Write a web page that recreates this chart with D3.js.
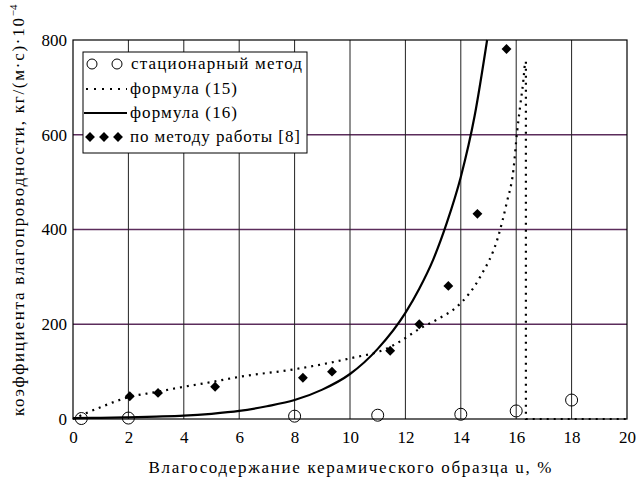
<!DOCTYPE html>
<html>
<head>
<meta charset="utf-8">
<script src="https://cdn.jsdelivr.net/npm/d3@7"></script>
</head>
<body style="margin:0">
<div id="chart"></div>
<script>
// стационарный метод (open circles)
const stationaryU = [0.3, 2, 8, 11, 14, 16, 18];
const stationaryK = [1, 2, 6, 8, 10, 17, 40];

// по методу работы [8] (diamonds)
const methodU = [2.05, 3.07, 5.13, 8.3, 9.35, 11.45, 12.5, 13.55, 14.6, 15.65];
const methodK = [48, 55, 68, 87, 100, 144, 200, 281, 433, 781];

// формула (15), dotted
const f15U = [0, 1, 2, 3, 4, 5, 6, 8, 10, 11.3, 11.7, 12.5, 13.2, 13.86, 14.7, 15.35, 15.66, 15.9, 16.03, 16.14, 16.26, 16.32];
const f15K = [0, 25, 46, 57, 68, 78, 89, 105, 128, 148, 160, 190, 212, 237, 300, 385, 457, 526, 605, 659, 716, 754];
// drop of formula (15) at the pole
const f15TailU = [16.35, 16.35, 20];
const f15TailK = [754, 0, 0];

// формула (16), solid (leaves the plot at the top)
const f16U = [0, 1, 2, 3, 4, 5, 6, 7, 8, 9, 10, 11, 12, 12.5, 13, 13.5, 14, 14.5, 14.95];
const f16K = [2, 2.5, 3.5, 5, 7, 11, 17, 27, 40, 62, 95, 148, 224, 275, 336, 415, 511, 640, 800];

const xTicks = [0, 2, 4, 6, 8, 10, 12, 14, 16, 18, 20];
const yTicks = [0, 200, 400, 600, 800];

const legendLabels = [
  "стационарный метод",
  "формула (15)",
  "формула (16)",
  "по методу работы [8]",
];

const serif = '"Liberation Serif"';
const width = 637;
const height = 479;
const margin = { top: 40, right: 10, bottom: 60, left: 73 };

const svg = d3
  .select("#chart")
  .append("svg")
  .attr("width", width)
  .attr("height", height);

svg.append("rect").attr("width", width).attr("height", height).attr("fill", "#fff");

const x = d3
  .scaleLinear()
  .domain([0, 20])
  .range([margin.left, width - margin.right]);

const y = d3
  .scaleLinear()
  .domain([0, 800])
  .range([height - margin.bottom, margin.top]);

// grid: purple horizontals, dark verticals
svg
  .append("g")
  .selectAll("line")
  .data(yTicks.filter((d) => d > 0 && d < 800))
  .join("line")
  .attr("x1", margin.left)
  .attr("x2", width - margin.right)
  .attr("y1", (d) => y(d))
  .attr("y2", (d) => y(d))
  .attr("stroke", "#5b2c5b")
  .attr("stroke-width", 1.5);

svg
  .append("g")
  .selectAll("line")
  .data(xTicks.filter((d) => d > 0 && d < 20))
  .join("line")
  .attr("x1", (d) => x(d))
  .attr("x2", (d) => x(d))
  .attr("y1", margin.top)
  .attr("y2", height - margin.bottom)
  .attr("stroke", "#222")
  .attr("stroke-width", 1);

// frame
svg
  .append("rect")
  .attr("x", margin.left)
  .attr("y", margin.top)
  .attr("width", width - margin.left - margin.right)
  .attr("height", height - margin.top - margin.bottom)
  .attr("fill", "none")
  .attr("stroke", "#000")
  .attr("stroke-width", 1.2);

// tick labels
const xAxis = svg
  .append("g")
  .attr("transform", `translate(0, ${height - margin.bottom})`)
  .call(d3.axisBottom(x).tickValues(xTicks).tickSize(0).tickPadding(12));
const yAxis = svg
  .append("g")
  .attr("transform", `translate(${margin.left}, 0)`)
  .call(d3.axisLeft(y).tickValues(yTicks).tickSize(0).tickPadding(6));
[xAxis, yAxis].forEach((ax) => {
  ax.attr("font-family", null).attr("font-size", null);
  ax.select(".domain").remove();
  ax.selectAll("text")
    .style("font-family", serif)
    .attr("font-size", 17)
    .attr("fill", "#000");
});

// axis titles
svg
  .append("text")
  .text("Влагосодержание керамического образца u, %")
  .attr("x", 350)
  .attr("y", 473)
  .attr("text-anchor", "middle")
  .attr("textLength", 403)
  .attr("lengthAdjust", "spacing")
  .style("font-family", serif)
  .attr("font-size", 17);

const yTitle = svg
  .append("text")
  .attr("transform", "translate(24, 416) rotate(-90)")
  .style("font-family", serif)
  .attr("font-size", 17);
yTitle
  .append("tspan")
  .text("коэффициента влагопроводности, кг/(м·с)·10")
  .attr("textLength", 398)
  .attr("lengthAdjust", "spacing");
yTitle
  .append("tspan")
  .text("−4")
  .attr("dy", -7)
  .attr("font-size", 11);

// curves
const toPoints = (us, ks) => us.map((u, i) => [u, ks[i]]);
const line = d3
  .line()
  .x((d) => x(d[0]))
  .y((d) => y(d[1]));

svg
  .append("path")
  .attr("d", line.curve(d3.curveMonotoneX)(toPoints(f15U, f15K)))
  .attr("fill", "none")
  .attr("stroke", "#000")
  .attr("stroke-width", 2.2)
  .attr("stroke-dasharray", "2 5");

svg
  .append("path")
  .attr("d", line.curve(d3.curveLinear)(toPoints(f15TailU, f15TailK)))
  .attr("fill", "none")
  .attr("stroke", "#000")
  .attr("stroke-width", 2.2)
  .attr("stroke-dasharray", "2 5");

svg
  .append("path")
  .attr("d", line.curve(d3.curveMonotoneX)(toPoints(f16U, f16K)))
  .attr("fill", "none")
  .attr("stroke", "#000")
  .attr("stroke-width", 2.2);

svg
  .append("g")
  .selectAll("circle")
  .data(toPoints(stationaryU, stationaryK))
  .join("circle")
  .attr("cx", (d) => x(d[0]))
  .attr("cy", (d) => y(d[1]))
  .attr("r", 6)
  .attr("fill", "none")
  .attr("stroke", "#000")
  .attr("stroke-width", 1);

const diamond = d3.symbol().type(d3.symbolDiamond2).size(62);
svg
  .append("g")
  .selectAll("path")
  .data(toPoints(methodU, methodK))
  .join("path")
  .attr("d", diamond)
  .attr("transform", (d) => `translate(${x(d[0])}, ${y(d[1])})`)
  .attr("fill", "#000");

// legend
const legend = svg.append("g");
legend
  .append("rect")
  .attr("x", 83)
  .attr("y", 52)
  .attr("width", 224)
  .attr("height", 101)
  .attr("fill", "#fff")
  .attr("stroke", "#000")
  .attr("stroke-width", 1);

const rowY = [64, 89, 113, 137];
const legendWidths = [171, 107, 107, 170];
legend
  .selectAll("text")
  .data(legendLabels)
  .join("text")
  .text((d) => d)
  .attr("x", (d, i) => (i === 0 ? 131 : 130))
  .attr("y", (d, i) => rowY[i] + 5)
  .attr("textLength", (d, i) => legendWidths[i])
  .attr("lengthAdjust", "spacing")
  .style("font-family", serif)
  .attr("font-size", 17);

[92, 117].forEach((cx) => {
  legend
    .append("circle")
    .attr("cx", cx)
    .attr("cy", rowY[0])
    .attr("r", 5)
    .attr("fill", "none")
    .attr("stroke", "#000");
});
legend
  .append("line")
  .attr("x1", 86)
  .attr("x2", 127)
  .attr("y1", rowY[1])
  .attr("y2", rowY[1])
  .attr("stroke", "#000")
  .attr("stroke-width", 2)
  .attr("stroke-dasharray", "2 6");
legend
  .append("line")
  .attr("x1", 84)
  .attr("x2", 127)
  .attr("y1", rowY[2])
  .attr("y2", rowY[2])
  .attr("stroke", "#000")
  .attr("stroke-width", 2.2);
[90, 104, 118].forEach((cx) => {
  legend
    .append("path")
    .attr("d", diamond)
    .attr("transform", `translate(${cx}, ${rowY[3]})`)
    .attr("fill", "#000");
});
</script>
</body>
</html>
